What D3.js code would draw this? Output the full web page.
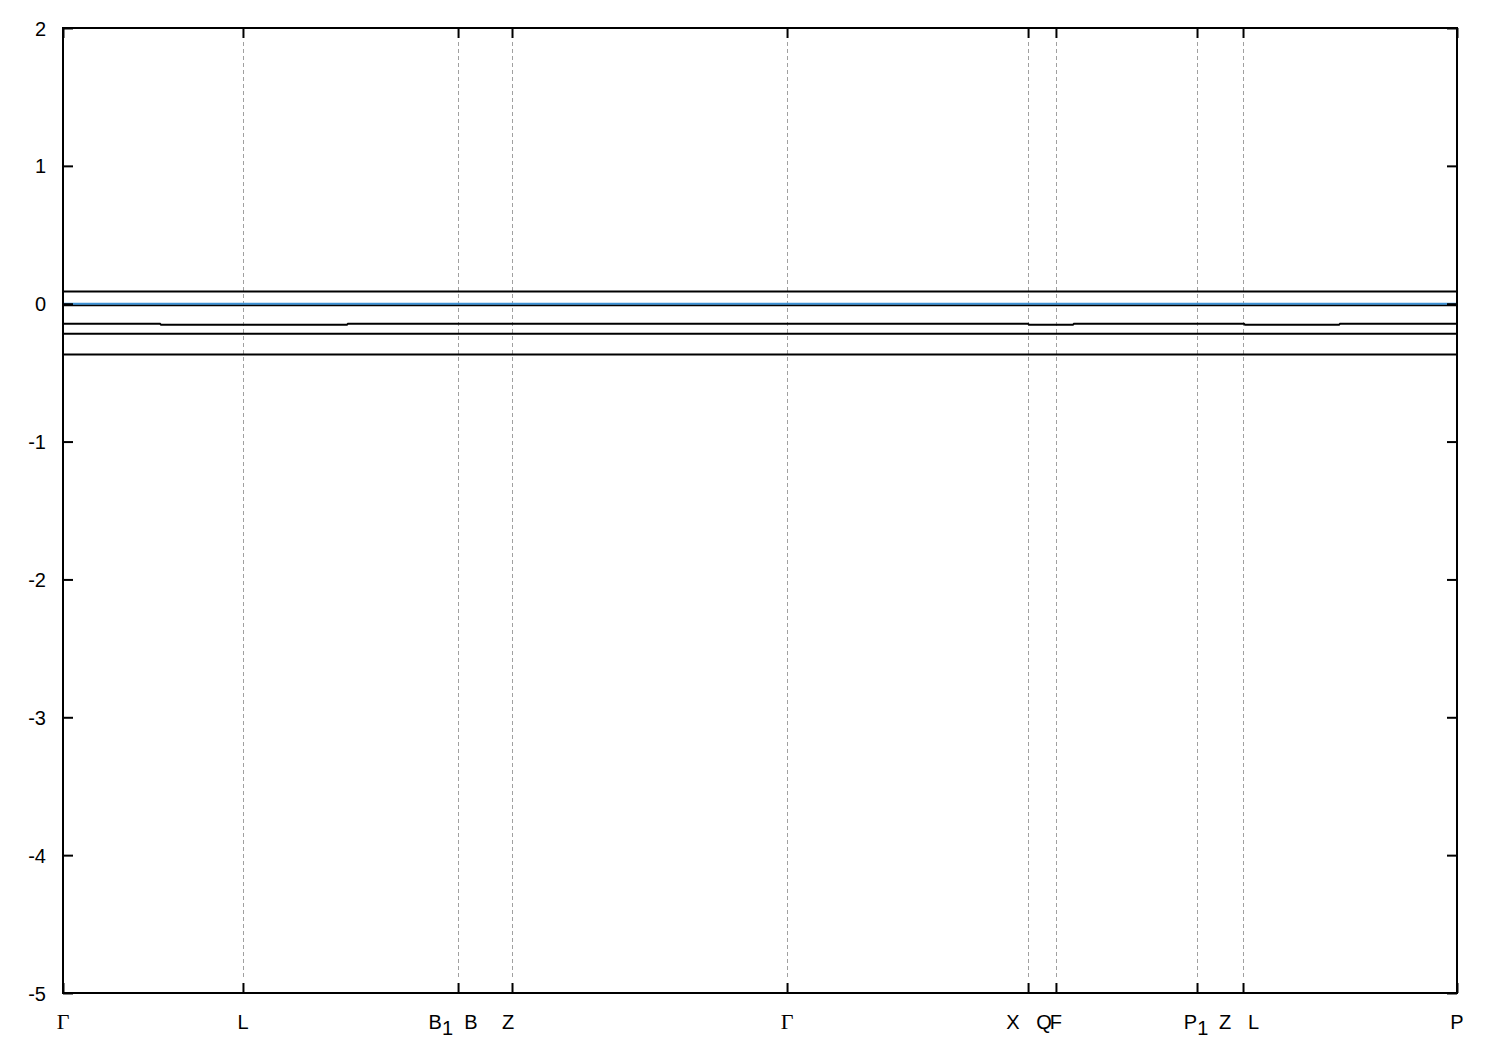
<!DOCTYPE html>
<html>
<head>
<meta charset="utf-8">
<script src="https://cdn.jsdelivr.net/npm/d3@7"></script>
<style>
  body { margin: 0; background: #fff; }
  svg { display: block; }
  text { white-space: pre; }
</style>
</head>
<body>
<svg id="chart" width="1500" height="1050"></svg>
<script>
// ---- Data ----
// High-symmetry k-points (normalised path coordinate) and labels
const kpointPos = [0, 0.1291, 0.2834, 0.3221, 0.5194, 0.6923, 0.7123, 0.8135, 0.8465, 1.0];
const kpointLabels = [
  [{t: "Γ", serif: true}],
  [{t: "L"}],
  [{t: "B"}, {t: "1", sub: true}, {t: "  B"}],
  [{t: "Z"}],
  [{t: "Γ", serif: true}],
  [{t: "X   Q"}],
  [{t: "F"}],
  [{t: "P"}, {t: "1", sub: true}],
  [{t: "Z   L"}],
  [{t: "P"}]
];
const yTicks = [2, 1, 0, -1, -2, -3, -4, -5];

// Bands (energy in eV vs path coordinate)
const band1 = [[0, 0.088], [1, 0.088]];
const band2 = [[0, -0.012], [1, -0.012]];
const band3 = [
  [0, -0.146], [0.0696, -0.146], [0.0703, -0.152], [0.2037, -0.152], [0.2044, -0.146],
  [0.6923, -0.146], [0.6930, -0.152], [0.7245, -0.152], [0.7252, -0.146],
  [0.8472, -0.146], [0.8479, -0.152], [0.9154, -0.152], [0.9161, -0.146], [1, -0.146]
];
const band4 = [[0, -0.217], [1, -0.217]];
const band5 = [[0, -0.369], [1, -0.369]];
const bands = [band1, band2, band3, band4, band5];
const fermi = [[0, 0], [1, 0]];

(function() {
// ---- Layout ----
const svg = d3.select("#chart");
const mLeft = 63, mRight = 1457, mTop = 28, mBottom = 993;
const x = d3.scaleLinear().domain([0, 1]).range([mLeft, mRight]);
const y = d3.scaleLinear().domain([-5, 2]).range([mBottom, mTop]);
const font = "'Liberation Sans', Arial, sans-serif";
const tickLen = 10;
const labelShift = [0, 0, -5, -4, 0, 1, 0, -1, -4, 0];

// Grid lines at k-points (skip the ends)
svg.append("g").selectAll("line")
  .data(kpointPos.filter(d => d > 0 && d < 1))
  .join("line")
  .attr("x1", d => Math.round(x(d)) + 0.5).attr("x2", d => Math.round(x(d)) + 0.5)
  .attr("y1", mTop + tickLen + 4).attr("y2", mBottom - tickLen - 4)
  .attr("stroke", "#a0a0a0").attr("stroke-width", 1)
  .attr("stroke-dasharray", "4,3");

// Bands
const line = d3.line().x(d => x(d[0])).y(d => y(d[1]));
svg.append("g").selectAll("path")
  .data(bands).join("path")
  .attr("d", line).attr("fill", "none")
  .attr("stroke", "#000").attr("stroke-width", 2);

svg.append("path").datum(fermi)
  .attr("d", line).attr("fill", "none")
  .attr("stroke", "#3d92d6").attr("stroke-width", 2);

// Y axes (left and right), ticks inward
const yAxisL = d3.axisLeft(y).tickValues(yTicks).tickSize(-tickLen).tickPadding(17)
  .tickFormat(d => String(d));
const gL = svg.append("g").attr("transform", `translate(${mLeft},0)`).call(yAxisL);
gL.select(".domain").remove();
gL.selectAll("line").attr("stroke", "#000").attr("stroke-width", 2);
gL.selectAll("text").attr("font-family", font).attr("font-size", 20).attr("fill", "#000")
  .attr("dy", "0.35em");

const yAxisR = d3.axisRight(y).tickValues(yTicks).tickSize(-tickLen).tickFormat("");
const gR = svg.append("g").attr("transform", `translate(${mRight},0)`).call(yAxisR);
gR.select(".domain").remove();
gR.selectAll("line").attr("stroke", "#000").attr("stroke-width", 2);

// X axes ticks (top and bottom), inward
const xAxisB = d3.axisBottom(x).tickValues(kpointPos).tickSize(-tickLen).tickFormat("");
const gB = svg.append("g").attr("transform", `translate(0,${mBottom})`).call(xAxisB);
gB.select(".domain").remove();
gB.selectAll("line").attr("stroke", "#000").attr("stroke-width", 2);

const xAxisT = d3.axisTop(x).tickValues(kpointPos).tickSize(-tickLen).tickFormat("");
const gT = svg.append("g").attr("transform", `translate(0,${mTop})`).call(xAxisT);
gT.select(".domain").remove();
gT.selectAll("line").attr("stroke", "#000").attr("stroke-width", 2);

// X tick labels
const lbl = svg.append("g").selectAll("text")
  .data(kpointPos.map((p, i) => ({p, i, parts: kpointLabels[i]})))
  .join("text")
  .attr("x", d => x(d.p) + labelShift[d.i])
  .attr("y", 1029)
  .attr("text-anchor", "middle")
  .attr("font-family", font).attr("font-size", 20).attr("fill", "#000");
lbl.each(function(d) {
  const t = d3.select(this);
  d.parts.forEach((part, j) => {
    const s = t.append("tspan").text(part.t);
    if (part.serif) s.attr("font-family", "'Liberation Serif', 'Times New Roman', serif").attr("font-size", 22);
    if (part.sub) s.attr("dy", 6);
    else if (j > 0 && d.parts[j - 1].sub) s.attr("dy", -6);
  });
});

// Frame
svg.append("rect")
  .attr("x", mLeft).attr("y", mTop)
  .attr("width", mRight - mLeft).attr("height", mBottom - mTop)
  .attr("fill", "none").attr("stroke", "#000").attr("stroke-width", 2);
})();
</script>
</body>
</html>
